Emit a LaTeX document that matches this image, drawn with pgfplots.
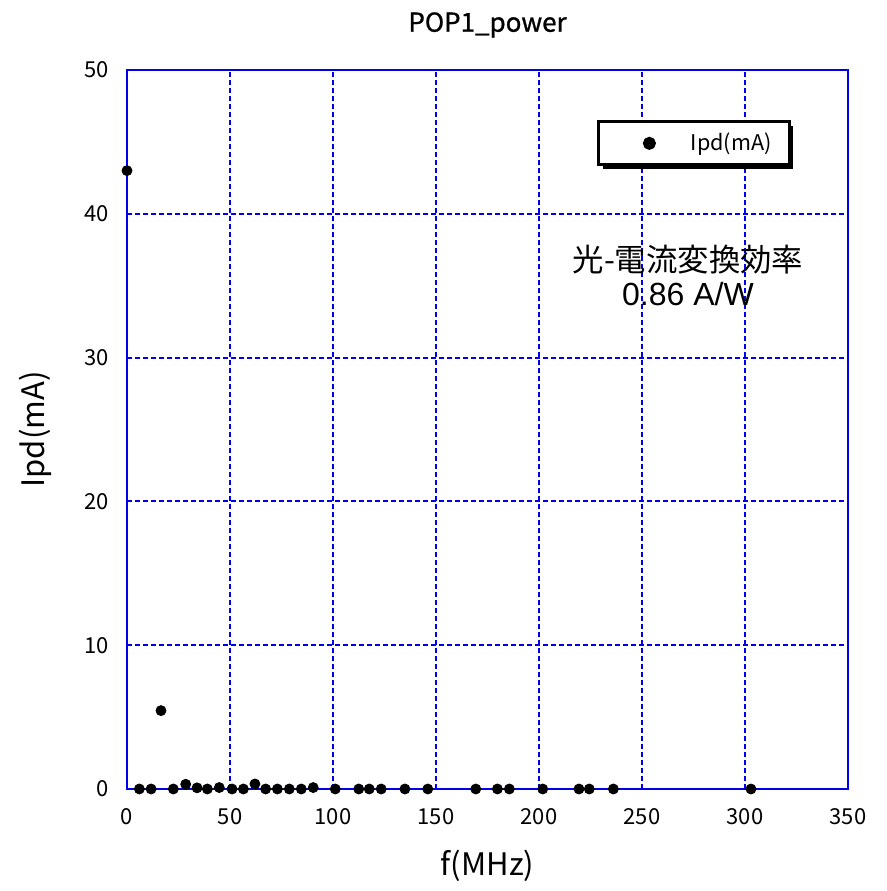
\documentclass[border=0pt]{standalone}
\usepackage{fontspec}
\setmainfont{Liberation Sans}
\newfontfamily\cjk{Noto Sans CJK JP}
\newfontfamily\cjkb[FakeBold=1]{Noto Sans CJK JP}
\usepackage{pgfplots}
\pgfplotsset{compat=1.18}
\usetikzlibrary{shadows}
\definecolor{gridblue}{RGB}{0,0,235}
\begin{document}
\begin{tikzpicture}
\begin{axis}[
  scale only axis, width=360.5pt, height=359.5pt,
  xmin=0, xmax=350, ymin=0, ymax=50,
  xtick={0,50,...,350}, ytick={0,10,...,50},
  grid=major,
  grid style={gridblue, dash pattern=on 2.6pt off 1.4pt, line width=1pt},
  axis line style={gridblue, line width=1.2pt},
  major tick length=0pt,
  tick label style={font=\cjk\fontsize{11}{12}\selectfont},
  xticklabel style={yshift=-6pt},
  yticklabel style={xshift=-5.5pt},
  /pgf/number format/assume math mode=true,
  xlabel={\cjk\fontsize{15.5}{18}\selectfont f(MHz)},
  xlabel style={at={(axis description cs:0.5,-0.1071)}, anchor=center, inner sep=0pt},
  ylabel={\cjk\fontsize{15.5}{18}\selectfont Ipd(mA)},
  ylabel style={at={(axis description cs:-0.1276,0.5)}, anchor=center, inner sep=0pt},
  legend style={at={(0.786,0.898)}, anchor=center, draw=black, line width=1.5pt,
    fill=white, drop shadow={shadow xshift=2.2pt, shadow yshift=-2.2pt, opacity=1, fill=black},
    font=\cjk\fontsize{10.8}{12}\selectfont, inner xsep=6.7pt, inner ysep=3.6pt},
  legend image code/.code={%
    \pgfpathrectangle{\pgfpointorigin}{\pgfpoint{37.5pt}{0pt}}%
    \pgfusepath{use as bounding box}%
    \draw[#1] plot[only marks, mark repeat=1] coordinates {(18.8pt,0pt)};},
  legend cell align=left,
  clip=false,
]
\addplot[only marks, mark=*, mark size=2.5pt, black] coordinates {
  (0,43.0) (6.0,0) (11.7,0) (16.5,5.45) (22.5,0) (28.5,0.33) (34.0,0.08)
  (39.0,0) (44.8,0.1) (51.0,0) (56.5,0) (62.1,0.35) (67.3,0) (73.0,0)
  (78.8,0) (84.6,0) (90.4,0.1) (101.1,0) (112.5,0) (117.6,0) (123.4,0)
  (134.9,0) (146.0,0) (169.3,0) (179.8,0) (185.6,0) (201.8,0) (219.4,0)
  (224.4,0) (236.1,0) (302.9,0)
};
\addlegendentry{Ipd(mA)}
\node[align=center, font=\fontsize{16}{17}\selectfont] at (axis cs:272.3,35.7)
  {{\cjk\fontsize{15.7}{17}\selectfont 光-電流変換効率}\\[0pt]0.86 A/W};
\node[inner sep=0pt, font=\cjkb\fontsize{13}{15}\selectfont] at (axis description cs:0.5,1.0626) {POP1\_power};
\end{axis}
\path (current axis.south west) ++(-63.5pt,-51pt) coordinate (bl);
\path (current axis.north east) ++(19pt,35pt) coordinate (tr);
\path (bl) rectangle (tr);
\end{tikzpicture}
\end{document}
